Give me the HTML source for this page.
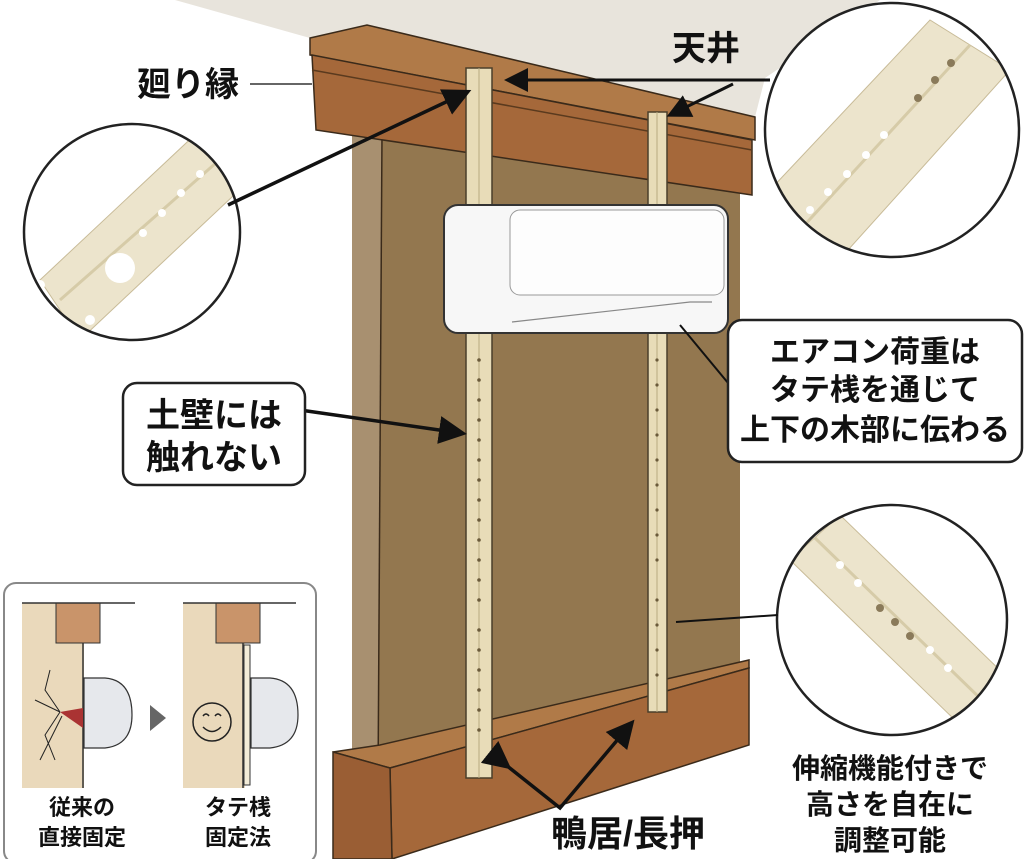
<!DOCTYPE html>
<html><head><meta charset="utf-8"><style>
html,body{margin:0;padding:0;background:#fff;}
svg{display:block}
text{font-family:"Liberation Sans","Noto Sans CJK JP",sans-serif;font-weight:bold;fill:#111}
</style></head><body>
<svg width="1024" height="859" viewBox="0 0 1024 859" xmlns="http://www.w3.org/2000/svg">
<defs>
<marker id="ah" markerWidth="8" markerHeight="8" refX="6" refY="4" orient="auto" markerUnits="strokeWidth">
<path d="M0,0 L8,4 L0,8 z" fill="#111"/></marker>
<clipPath id="c1"><circle cx="132" cy="232" r="108"/></clipPath>
<clipPath id="c2"><circle cx="892" cy="130" r="127"/></clipPath>
<clipPath id="c3"><circle cx="892" cy="620" r="115"/></clipPath>
</defs>
<!-- ceiling -->
<polygon points="175,0 880,0 765,78 755,117 367,25 310,38" fill="#e8e4dc"/>
<!-- wall -->
<polygon points="352,130 740,190 740,690 352,790" fill="#93774f"/>
<polygon points="352,130 382,134 378,785 352,790" fill="#a89070"/>
<line x1="382" y1="134" x2="378" y2="785" stroke="#3a2a1a" stroke-width="1.5"/>
<!-- top beam -->
<polygon points="310,38 367,25 755,117 755,140 310,55" fill="#b07a48" stroke="#3a2a1a" stroke-width="1.5"/>
<polygon points="312,55 752,140 752,195 316,130" fill="#a5683a" stroke="#3a2a1a" stroke-width="1.5"/>
<line x1="312" y1="70" x2="752" y2="150" stroke="#5a3a1e" stroke-width="1.5"/>
<!-- bottom beam -->
<polygon points="333,752 380,745 749,660 749,668 390,768" fill="#b07a48" stroke="#3a2a1a" stroke-width="1.5"/>
<polygon points="390,768 749,668 749,745 392,859" fill="#a5683a" stroke="#3a2a1a" stroke-width="1.5"/>
<polygon points="333,752 390,768 392,859 333,859" fill="#9a5e34" stroke="#3a2a1a" stroke-width="1.5"/>
<!-- rails -->
<rect x="466" y="68" width="26" height="710" fill="#e8dcb8" stroke="#4a3f2a" stroke-width="1.5"/>
<line x1="479" y1="68" x2="479" y2="778" stroke="#b8aa80" stroke-width="1"/>
<rect x="648" y="112" width="19" height="600" fill="#e8dcb8" stroke="#4a3f2a" stroke-width="1.5"/>
<line x1="657" y1="112" x2="657" y2="712" stroke="#b8aa80" stroke-width="1"/>
<g fill="#6a5a3a">
<circle cx="479" cy="360" r="1.8"/><circle cx="479" cy="380" r="1.8"/><circle cx="479" cy="400" r="1.8"/><circle cx="479" cy="420" r="1.8"/><circle cx="479" cy="440" r="1.8"/><circle cx="479" cy="460" r="1.8"/><circle cx="479" cy="480" r="1.8"/><circle cx="479" cy="500" r="1.8"/><circle cx="479" cy="520" r="1.8"/><circle cx="479" cy="540" r="1.8"/><circle cx="479" cy="560" r="1.8"/><circle cx="479" cy="580" r="1.8"/><circle cx="479" cy="600" r="1.8"/><circle cx="479" cy="630" r="1.8"/><circle cx="479" cy="650" r="1.8"/><circle cx="479" cy="670" r="1.8"/><circle cx="479" cy="690" r="1.8"/><circle cx="479" cy="710" r="1.8"/><circle cx="479" cy="730" r="1.8"/>
<circle cx="657" cy="360" r="1.6"/><circle cx="657" cy="385" r="1.6"/><circle cx="657" cy="410" r="1.6"/><circle cx="657" cy="435" r="1.6"/><circle cx="657" cy="460" r="1.6"/><circle cx="657" cy="485" r="1.6"/><circle cx="657" cy="510" r="1.6"/><circle cx="657" cy="535" r="1.6"/><circle cx="657" cy="560" r="1.6"/><circle cx="657" cy="600" r="1.6"/><circle cx="657" cy="625" r="1.6"/><circle cx="657" cy="650" r="1.6"/><circle cx="657" cy="675" r="1.6"/>
</g>
<!-- AC -->
<rect x="444" y="205" width="284" height="128" rx="14" fill="#f7f7f7" stroke="#333" stroke-width="2"/>
<rect x="510" y="210" width="214" height="85" rx="10" fill="#fdfdfd" stroke="#999" stroke-width="1"/>
<path d="M512,322 L690,302 L712,302" fill="none" stroke="#888" stroke-width="1.2"/>
<!-- circles -->
<g clip-path="url(#c1)"><rect x="0" y="100" width="260" height="260" fill="#fff"/>
<polygon points="40,280 200,130 250,180 80,340" fill="#ece4cc" stroke="#c8bb98"/>
<line x1="60" y1="300" x2="225" y2="155" stroke="#d6cba8" stroke-width="3"/>
<circle cx="120" cy="268" r="15" fill="#fff"/>
<g fill="#fff"><circle cx="143" cy="233" r="4"/><circle cx="162" cy="213" r="4"/><circle cx="181" cy="193" r="4"/><circle cx="200" cy="174" r="4"/><circle cx="40" cy="285" r="5"/><circle cx="90" cy="320" r="5"/></g></g>
<circle cx="132" cy="232" r="108" fill="none" stroke="#222" stroke-width="2.5"/>
<g clip-path="url(#c2)"><rect x="760" y="0" width="264" height="260" fill="#fff"/>
<polygon points="770,190 930,20 1010,70 830,270" fill="#ece4cc" stroke="#c8bb98"/>
<line x1="800" y1="230" x2="970" y2="45" stroke="#d6cba8" stroke-width="3"/>
<g fill="#fff"><circle cx="810" cy="210" r="4"/><circle cx="828" cy="192" r="4"/><circle cx="847" cy="174" r="4"/><circle cx="866" cy="155" r="4"/><circle cx="884" cy="135" r="4"/></g>
<g fill="#8a7a5a"><circle cx="918" cy="98" r="4"/><circle cx="935" cy="80" r="4"/><circle cx="951" cy="63" r="4"/></g></g>
<circle cx="892" cy="130" r="127" fill="none" stroke="#222" stroke-width="2.5"/>
<g clip-path="url(#c3)"><rect x="770" y="500" width="254" height="240" fill="#fff"/>
<polygon points="790,560 840,515 1010,680 960,725" fill="#ece4cc" stroke="#c8bb98"/>
<line x1="815" y1="538" x2="985" y2="703" stroke="#d6cba8" stroke-width="3"/>
<g fill="#fff"><circle cx="840" cy="565" r="4"/><circle cx="858" cy="583" r="4"/><circle cx="930" cy="650" r="4"/><circle cx="948" cy="668" r="4"/></g>
<g fill="#8a7a5a"><circle cx="880" cy="608" r="4"/><circle cx="895" cy="622" r="4"/><circle cx="910" cy="636" r="4"/></g></g>
<circle cx="892" cy="620" r="115" fill="none" stroke="#222" stroke-width="2.5"/>
<!-- leaders -->
<line x1="250" y1="84" x2="312" y2="84" stroke="#333" stroke-width="1.5"/>
<line x1="228" y1="205" x2="465" y2="93" stroke="#111" stroke-width="3.5" marker-end="url(#ah)"/>
<polyline points="770,80 510,80" fill="none" stroke="#111" stroke-width="3" marker-end="url(#ah)"/>
<line x1="733" y1="84" x2="672" y2="114" stroke="#111" stroke-width="3" marker-end="url(#ah)"/>
<line x1="300" y1="410" x2="460" y2="433" stroke="#111" stroke-width="3.5" marker-end="url(#ah)"/>
<line x1="738" y1="395" x2="680" y2="325" stroke="#111" stroke-width="2"/>
<line x1="778" y1="615" x2="676" y2="622" stroke="#111" stroke-width="2"/>
<polyline points="506,765 560,808 630,725" fill="none" stroke="#111" stroke-width="3.5" marker-start="url(#ah)" marker-end="url(#ah)"/>
<!-- callouts -->
<rect x="123" y="383" width="182" height="102" rx="14" fill="#fff" stroke="#222" stroke-width="2.5"/>
<text x="214" y="427" font-size="34" text-anchor="middle">土壁には</text>
<text x="214" y="469" font-size="34" text-anchor="middle">触れない</text>
<rect x="728" y="320" width="294" height="142" rx="14" fill="#fff" stroke="#222" stroke-width="2.5"/>
<text x="875" y="362" font-size="30" text-anchor="middle">エアコン荷重は</text>
<text x="875" y="400" font-size="30" text-anchor="middle">タテ桟を通じて</text>
<text x="875" y="440" font-size="30" text-anchor="middle">上下の木部に伝わる</text>
<text x="188" y="96" font-size="34" text-anchor="middle">廻り縁</text>
<text x="706" y="60" font-size="34" text-anchor="middle">天井</text>
<text x="628" y="846" font-size="36" text-anchor="middle">鴨居/長押</text>
<text x="890" y="778" font-size="28" text-anchor="middle">伸縮機能付きで</text>
<text x="890" y="814" font-size="28" text-anchor="middle">高さを自在に</text>
<text x="890" y="850" font-size="28" text-anchor="middle">調整可能</text>
<!-- inset -->
<rect x="4" y="583" width="312" height="280" rx="12" fill="#fff" stroke="#888" stroke-width="2"/>
<rect x="22" y="603" width="62" height="185" fill="#ead9bb"/>
<rect x="56" y="603" width="44" height="40" fill="#c9946a" stroke="#333" stroke-width="1"/>
<line x1="22" y1="603" x2="135" y2="603" stroke="#333" stroke-width="1.5"/>
<line x1="83" y1="643" x2="83" y2="788" stroke="#333" stroke-width="1.5"/>
<path d="M84,678 L105,678 Q132,680 132,715 Q132,745 105,748 L84,748 z" fill="#e6e8ec" stroke="#333" stroke-width="1.2"/>
<polygon points="60,712 83,708 83,728" fill="#a33"/>
<path d="M60,712 L45,690 L50,670 M60,712 L35,700 M60,712 L45,735 L55,760 M62,716 L40,760" fill="none" stroke="#222" stroke-width="1"/>
<polygon points="150,705 166,718 150,731" fill="#666"/>
<rect x="183" y="603" width="62" height="185" fill="#ead9bb"/>
<rect x="216" y="603" width="44" height="40" fill="#c9946a" stroke="#333" stroke-width="1"/>
<line x1="183" y1="603" x2="296" y2="603" stroke="#333" stroke-width="1.5"/>
<line x1="243" y1="643" x2="243" y2="788" stroke="#333" stroke-width="1.5"/>
<rect x="244" y="645" width="6" height="140" fill="#f3ecd8" stroke="#333" stroke-width="1"/>
<path d="M251,678 L270,678 Q298,680 298,715 Q298,745 270,748 L251,748 z" fill="#e6e8ec" stroke="#333" stroke-width="1.2"/>
<circle cx="212" cy="722" r="19" fill="none" stroke="#222" stroke-width="1.5"/>
<path d="M203,716 q3,-4 6,0 M215,716 q3,-4 6,0 M203,727 q9,9 18,0" fill="none" stroke="#222" stroke-width="1.5"/>
<text x="82" y="815" font-size="22" text-anchor="middle">従来の</text>
<text x="82" y="845" font-size="22" text-anchor="middle">直接固定</text>
<text x="238" y="815" font-size="22" text-anchor="middle">タテ桟</text>
<text x="238" y="845" font-size="22" text-anchor="middle">固定法</text>
</svg>
</body></html>
